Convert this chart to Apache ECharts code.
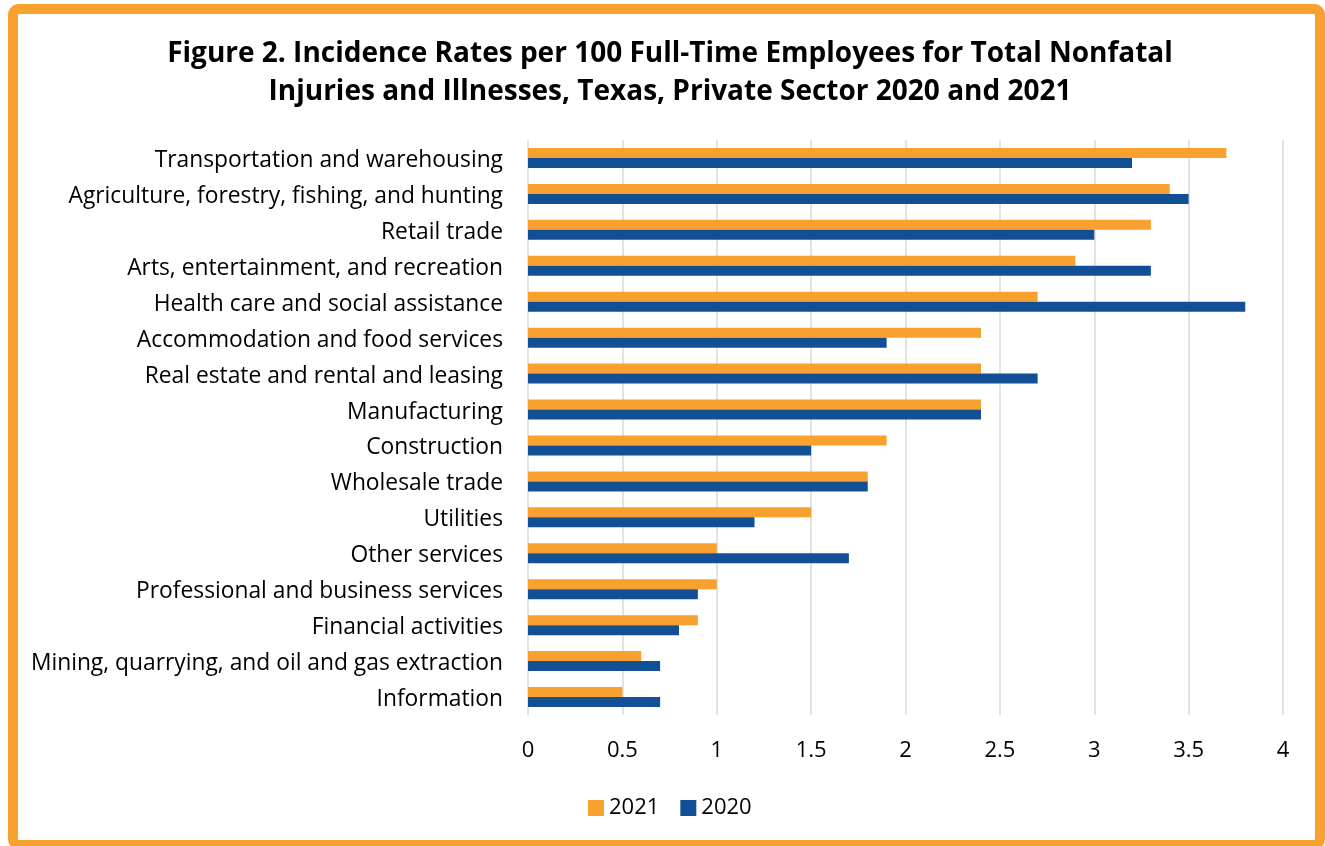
<!DOCTYPE html>
<html>
<head>
<meta charset="utf-8">
<script src="https://cdn.jsdelivr.net/npm/echarts@6/dist/echarts.min.js"></script>
<style>
  html, body { margin: 0; padding: 0; background: #fff; }
  #chart { width: 1325px; height: 846px; }
</style>
</head>
<body>
<div id="chart"></div>
<script>
// industries, top to bottom
var industries = [
  "Transportation and warehousing",
  "Agriculture, forestry, fishing, and hunting",
  "Retail trade",
  "Arts, entertainment, and recreation",
  "Health care and social assistance",
  "Accommodation and food services",
  "Real estate and rental and leasing",
  "Manufacturing",
  "Construction",
  "Wholesale trade",
  "Utilities",
  "Other services",
  "Professional and business services",
  "Financial activities",
  "Mining, quarrying, and oil and gas extraction",
  "Information"
];
var rate2021 = [3.7, 3.4, 3.3, 2.9, 2.7, 2.4, 2.4, 2.4, 1.9, 1.8, 1.5, 1.0, 1.0, 0.9, 0.6, 0.5];
var rate2020 = [3.2, 3.5, 3.0, 3.3, 3.8, 1.9, 2.7, 2.4, 1.5, 1.8, 1.2, 1.7, 0.9, 0.8, 0.7, 0.7];

var orange = "#f9a12e";
var blue = "#134f94";
var font = "'Open Sans', 'Noto Sans', sans-serif";

var chart = echarts.init(document.getElementById("chart"));
var option = {
  animation: false,
  backgroundColor: "#fff",
  textStyle: { fontFamily: font },
  title: {
    text: "Figure 2. Incidence Rates per 100 Full-Time Employees for Total Nonfatal\nInjuries and Illnesses, Texas, Private Sector 2020 and 2021",
    left: 665,
    textAlign: "center",
    top: 30,
    textStyle: { fontSize: 28, fontWeight: "bold", color: "#000", lineHeight: 38, fontFamily: font }
  },
  // orange frame round the figure
  graphic: [{
    type: "rect",
    shape: { x: 13, y: 9, width: 1307, height: 836, r: 6 },
    style: { fill: "none", stroke: orange, lineWidth: 10 },
    silent: true
  }],
  legend: {
    bottom: 22,
    left: 583,
    itemWidth: 16,
    itemHeight: 16,
    itemGap: 21,
    icon: "rect",
    textStyle: { fontSize: 22, color: "#000", fontFamily: font },
    data: ["2021", "2020"]
  },
  grid: { left: 528, right: 42, top: 140, bottom: 131 },
  xAxis: {
    type: "value",
    min: 0,
    max: 4,
    interval: 0.5,
    axisLine: { show: false },
    axisTick: { show: false },
    axisLabel: { fontSize: 22, color: "#000", margin: 25, fontFamily: font },
    splitLine: { lineStyle: { color: "#d9d9d9", width: 1.5 } }
  },
  yAxis: {
    type: "category",
    inverse: true,
    data: industries,
    axisLine: { show: false },
    axisTick: { show: false },
    axisLabel: {
      margin: 25,
      formatter: "{a|{value}}",
      rich: {
        a: { fontSize: 22.8, color: "#000", fontFamily: font, padding: [5, 0, 0, 0] }
      }
    }
  },
  series: [
    {
      name: "2021",
      type: "bar",
      data: rate2021,
      barWidth: 10,
      barGap: "0%",
      itemStyle: { color: orange }
    },
    {
      name: "2020",
      type: "bar",
      data: rate2020,
      barWidth: 10,
      barGap: "0%",
      itemStyle: { color: blue }
    }
  ]
};
chart.setOption(option);
</script>
</body>
</html>
